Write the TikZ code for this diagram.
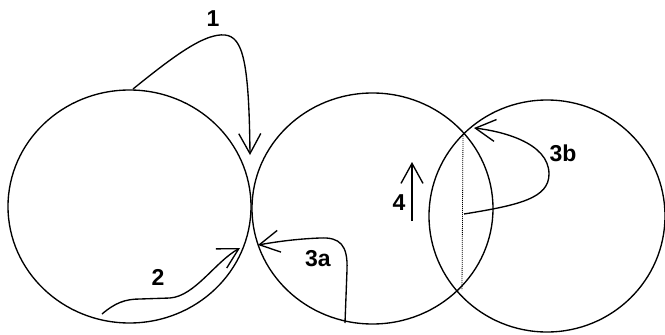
\documentclass[tikz,border=0pt]{standalone}
\usepackage{fontspec}
\setmainfont{Liberation Sans}
\usetikzlibrary{arrows.meta,shapes.geometric}
\begin{document}
\begin{tikzpicture}[x=1pt,y=-1pt,
  disc/.style={draw,ellipse,line width=1.35pt,inner sep=0pt},
  flow/.style={line width=1.35pt,-{Straight Barb[length=20pt,width=22pt]}},
  lbl/.style={font=\fontsize{23}{25}\selectfont\bfseries,inner sep=0pt},
  chord/.style={line width=0.8pt,dash pattern=on 1pt off 1pt}]
\useasboundingbox (0,0) rectangle (665,335);
\fill[white] (0,0) rectangle (665,335);
% circles
\node[disc,minimum width=243pt,minimum height=233pt] (L) at (129.5,206.5) {};
\node[disc,minimum width=241pt,minimum height=231pt] (M) at (372.5,208.5) {};
\node[disc,minimum width=236pt,minimum height=232pt] (R) at (547,216) {};
% named points
\coordinate (a1s) at (133,89);
\coordinate (a1e) at (250,155);
\coordinate (a2s) at (102,314);
\coordinate (a2e) at (240,248);
\coordinate (a3s) at (345,323);
\coordinate (a3e) at (258,245);
\coordinate (a4s) at (412,221);
\coordinate (a4e) at (412,162);
\coordinate (b3s) at (464,214);
\coordinate (b3e) at (474,128);
\coordinate (ct) at (463,134);
\coordinate (cb) at (462,290);
% chord
\draw[chord] (ct) -- (cb);
% arrows
\draw[flow] (a1s) .. controls (175,55) and (205,33) .. (225,35)
  .. controls (243,37) and (249,62) .. (a1e);
\draw[flow] (a2s) .. controls (115,303) and (125,299) .. (140,299)
  -- (170,298) .. controls (195,296) and (215,262) .. (a2e);
\draw[flow] (a3s) -- (347,270) .. controls (348,245) and (340,237) .. (320,238)
  .. controls (295,239) and (275,242) .. (a3e);
\draw[flow] (a4s) -- (a4e);
\draw[flow] (b3s) .. controls (520,205) and (549,198) .. (549,174)
  .. controls (549,142) and (500,131) .. (b3e);
% labels
\node[lbl] (n1) at (213,19) {1};
\node[lbl] (n2) at (158,277) {2};
\node[lbl] (n3a) at (318,259) {3a};
\node[lbl] (n3b) at (563,153) {3b};
\node[lbl] (n4) at (399,203) {4};
\end{tikzpicture}
\end{document}
